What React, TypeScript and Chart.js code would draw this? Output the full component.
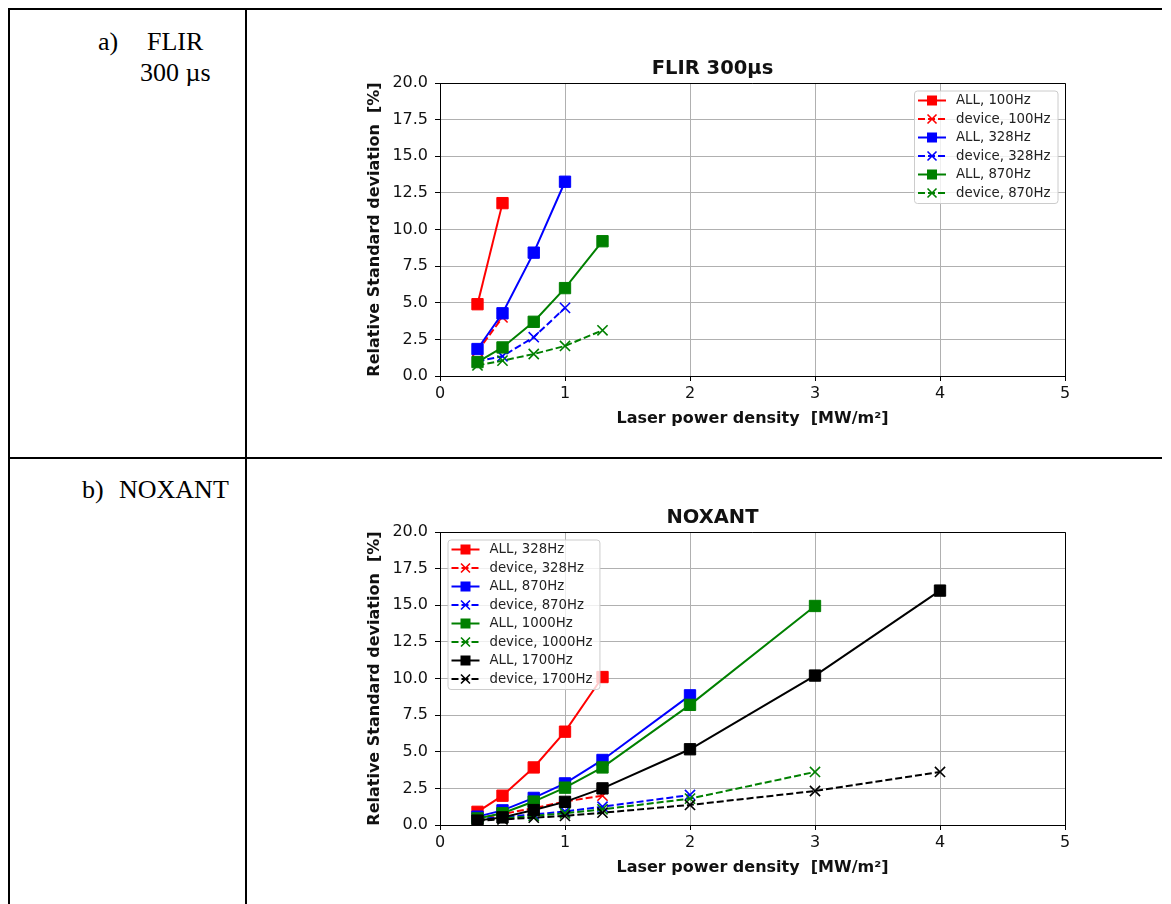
import React, { useEffect, useRef } from "react";
import { Chart, registerables } from "chart.js";

Chart.register(...registerables);

// ---------- Data ----------
const xTickValues = [0, 1, 2, 3, 4, 5];

// a) FLIR 300 µs
const flirX100 = [0.3, 0.5];
const flirAll100 = [4.9, 11.8];
const flirDev100 = [1.7, 4.0];
const flirX328 = [0.3, 0.5, 0.75, 1.0];
const flirAll328 = [1.84, 4.28, 8.42, 13.26];
const flirDev328 = [1.0, 1.35, 2.65, 4.65];
const flirX870 = [0.3, 0.5, 0.75, 1.0, 1.3];
const flirAll870 = [0.95, 1.95, 3.7, 6.0, 9.2];
const flirDev870 = [0.72, 1.05, 1.5, 2.05, 3.12];

// b) NOXANT
const noxX328 = [0.3, 0.5, 0.75, 1.0, 1.3];
const noxAll328 = [0.9, 2.0, 3.93, 6.37, 10.1];
const noxDev328 = [0.45, 0.75, 1.15, 1.6, 2.0];
const noxX870 = [0.3, 0.5, 0.75, 1.0, 1.3, 2.0];
const noxAll870 = [0.57, 1.0, 1.85, 2.84, 4.44, 8.85];
const noxDev870 = [0.4, 0.55, 0.72, 0.92, 1.25, 2.05];
const noxX1000 = [0.3, 0.5, 0.75, 1.0, 1.3, 2.0, 3.0];
const noxAll1000 = [0.45, 0.8, 1.6, 2.55, 3.93, 8.2, 14.95];
const noxDev1000 = [0.35, 0.45, 0.62, 0.8, 1.07, 1.8, 3.62];
const noxX1700 = [0.3, 0.5, 0.75, 1.0, 1.3, 2.0, 3.0, 4.0];
const noxAll1700 = [0.3, 0.52, 1.02, 1.58, 2.5, 5.17, 10.2, 16.0];
const noxDev1700 = [0.3, 0.38, 0.5, 0.62, 0.84, 1.37, 2.32, 3.62];

const RED = "#ff0000";
const BLUE = "#0000ff";
const GREEN = "#008000";
const BLACK = "#000000";

// ---------- Helpers ----------
function makeDS(label: string, xs: number[], ys: number[], color: string, dashed: boolean, idx: number) {
  return {
    label,
    data: xs.map((x, i) => ({ x, y: ys[i] })),
    borderColor: color,
    backgroundColor: color,
    borderWidth: 2,
    borderDash: dashed ? [7, 3] : [],
    pointStyle: dashed ? "crossRot" : "rect",
    pointRadius: dashed ? 7.2 : 8,
    pointBorderWidth: dashed ? 1.6 : 1,
    pointBorderColor: color,
    pointBackgroundColor: color,
    fill: false,
    tension: 0,
    order: -idx,
  };
}

const framePlugin = {
  id: "frame",
  afterDraw(chart: any) {
    const { ctx, chartArea: a } = chart;
    ctx.save();
    ctx.strokeStyle = "#000";
    ctx.lineWidth = 1;
    ctx.beginPath();
    const t = Math.round(a.top) + 0.5;
    const r = Math.round(a.right) + 0.5;
    ctx.moveTo(Math.round(a.left), t);
    ctx.lineTo(r, t);
    ctx.lineTo(r, Math.round(a.bottom) + 0.5);
    ctx.stroke();
    ctx.restore();
  },
};

const legendPlugin = {
  id: "boxLegend",
  afterDraw(chart: any, _args: any, opts: any) {
    const { ctx, chartArea: a } = chart;
    const dsets = chart.data.datasets;
    ctx.save();
    ctx.font = `${opts.fontSize}px "DejaVu Sans"`;
    let textW = 0;
    dsets.forEach((d: any) => {
      textW = Math.max(textW, ctx.measureText(d.label).width);
    });
    const rowH = 18.5;
    const w = 42 + textW + 7;
    const h = 20 + (dsets.length - 1) * rowH;
    const left = opts.align === "right" ? a.right - opts.inset - w : a.left + opts.inset;
    const top = a.top + opts.inset;
    ctx.beginPath();
    if ((ctx as any).roundRect) (ctx as any).roundRect(left + 0.5, top + 0.5, w, h, 3);
    else ctx.rect(left + 0.5, top + 0.5, w, h);
    ctx.fillStyle = "rgba(255,255,255,0.8)";
    ctx.fill();
    ctx.strokeStyle = "#cccccc";
    ctx.lineWidth = 1;
    ctx.stroke();
    dsets.forEach((d: any, i: number) => {
      const y = top + 10 + i * rowH;
      ctx.strokeStyle = d.borderColor;
      ctx.lineWidth = d.borderWidth;
      ctx.setLineDash(d.borderDash || []);
      ctx.beginPath();
      ctx.moveTo(left + 4, y);
      ctx.lineTo(left + 32, y);
      ctx.stroke();
      ctx.setLineDash([]);
      const mx = left + 18;
      if (d.pointStyle === "rect") {
        ctx.fillStyle = d.borderColor;
        ctx.fillRect(mx - 5, y - 5, 10, 10);
      } else {
        ctx.lineWidth = 1.6;
        ctx.beginPath();
        ctx.moveTo(mx - 4.5, y - 4.5);
        ctx.lineTo(mx + 4.5, y + 4.5);
        ctx.moveTo(mx - 4.5, y + 4.5);
        ctx.lineTo(mx + 4.5, y - 4.5);
        ctx.stroke();
      }
      ctx.fillStyle = "#222";
      ctx.textBaseline = "middle";
      ctx.textAlign = "left";
      ctx.fillText(d.label, left + 42, y + 0.5);
    });
    ctx.restore();
  },
};

function makeConfig(title: string, datasets: any[], legendAlign: string): any {
  return {
    type: "line",
    data: { datasets },
    options: {
      animation: false,
      responsive: false,
      devicePixelRatio: 1,
      layout: { padding: { top: 7.3, right: 15, bottom: 0, left: 0 } },
      plugins: {
        legend: { display: false },
        tooltip: { enabled: false },
        title: {
          display: true,
          text: title,
          color: "#111",
          font: { family: "DejaVu Sans", size: 19.5, weight: "bold" },
          padding: { top: 0, bottom: 2.3 },
        },
        boxLegend: { align: legendAlign, inset: 7.5, fontSize: 13.3 },
      },
      scales: {
        x: {
          type: "linear",
          min: 0,
          max: 5,
          afterFit: (s: any) => {
            s.height = 54;
          },
          afterBuildTicks: (s: any) => {
            s.ticks = xTickValues.map((v) => ({ value: v }));
          },
          ticks: {
            color: "#111",
            font: { family: "DejaVu Sans", size: 16 },
            padding: 3.5,
            maxRotation: 0,
            callback: (v: any) => String(v),
          },
          grid: { color: "#b0b0b0", lineWidth: 1, tickLength: 5, tickColor: "#000" },
          border: { display: true, color: "#000", width: 1 },
          title: {
            display: true,
            text: "Laser power density  [MW/m²]",
            color: "#111",
            font: { family: "DejaVu Sans", size: 16, weight: "bold" },
            padding: { top: 0, bottom: 1.4 },
          },
        },
        y: {
          type: "linear",
          min: 0,
          max: 20,
          afterFit: (s: any) => {
            s.width = 80;
          },
          ticks: {
            stepSize: 2.5,
            color: "#111",
            font: { family: "DejaVu Sans", size: 16 },
            padding: 7,
            callback: (v: any) => Number(v).toFixed(1),
          },
          grid: { color: "#b0b0b0", lineWidth: 1, tickLength: 5, tickColor: "#000" },
          border: { display: true, color: "#000", width: 1 },
          title: {
            display: true,
            text: "Relative Standard deviation  [%]",
            color: "#111",
            font: { family: "DejaVu Sans", size: 16, weight: "bold" },
            padding: { top: 5.4, bottom: 0 },
          },
        },
      },
    },
    plugins: [framePlugin, legendPlugin],
  };
}

function ChartBox({ make, left, top }: { make: () => any; left: number; top: number }) {
  const ref = useRef<HTMLCanvasElement>(null);
  useEffect(() => {
    const chart = new Chart(ref.current as HTMLCanvasElement, make());
    return () => chart.destroy();
  }, []);
  return (
    <canvas
      ref={ref}
      width={720}
      height={380}
      style={{ position: "absolute", left, top, width: 720, height: 380 }}
    />
  );
}

const flirConfig = () =>
  makeConfig(
    "FLIR 300µs",
    [
      makeDS("ALL, 100Hz", flirX100, flirAll100, RED, false, 0),
      makeDS("device, 100Hz", flirX100, flirDev100, RED, true, 1),
      makeDS("ALL, 328Hz", flirX328, flirAll328, BLUE, false, 2),
      makeDS("device, 328Hz", flirX328, flirDev328, BLUE, true, 3),
      makeDS("ALL, 870Hz", flirX870, flirAll870, GREEN, false, 4),
      makeDS("device, 870Hz", flirX870, flirDev870, GREEN, true, 5),
    ],
    "right"
  );

const noxConfig = () =>
  makeConfig(
    "NOXANT",
    [
      makeDS("ALL, 328Hz", noxX328, noxAll328, RED, false, 0),
      makeDS("device, 328Hz", noxX328, noxDev328, RED, true, 1),
      makeDS("ALL, 870Hz", noxX870, noxAll870, BLUE, false, 2),
      makeDS("device, 870Hz", noxX870, noxDev870, BLUE, true, 3),
      makeDS("ALL, 1000Hz", noxX1000, noxAll1000, GREEN, false, 4),
      makeDS("device, 1000Hz", noxX1000, noxDev1000, GREEN, true, 5),
      makeDS("ALL, 1700Hz", noxX1700, noxAll1700, BLACK, false, 6),
      makeDS("device, 1700Hz", noxX1700, noxDev1700, BLACK, true, 7),
    ],
    "left"
  );

const line = (l: number, t: number, w: number, h: number) => (
  <div style={{ position: "absolute", left: l, top: t, width: w, height: h, background: "#000" }} />
);

const serif: React.CSSProperties = {
  position: "absolute",
  fontFamily: '"Liberation Serif", "Times New Roman", serif',
  fontSize: 26,
  lineHeight: "26px",
  color: "#000",
  whiteSpace: "nowrap",
};

export default function App() {
  return (
    <div
      style={{
        position: "absolute",
        left: 0,
        top: 0,
        width: 1171,
        height: 904,
        overflow: "hidden",
        background: "#fff",
      }}
    >
      {line(8, 8, 1154, 2)}
      {line(8, 8, 2, 896)}
      {line(245, 8, 2, 896)}
      {line(8, 457, 1154, 2)}
      <div style={{ ...serif, left: 98, top: 29 }}>a)</div>
      <div style={{ ...serif, left: 147, top: 29 }}>FLIR</div>
      <div style={{ ...serif, left: 140, top: 60 }}>300 µs</div>
      <div style={{ ...serif, left: 82, top: 477 }}>b)</div>
      <div style={{ ...serif, left: 119, top: 477 }}>NOXANT</div>
      <ChartBox make={flirConfig} left={360} top={50} />
      <ChartBox make={noxConfig} left={360} top={499} />
    </div>
  );
}
